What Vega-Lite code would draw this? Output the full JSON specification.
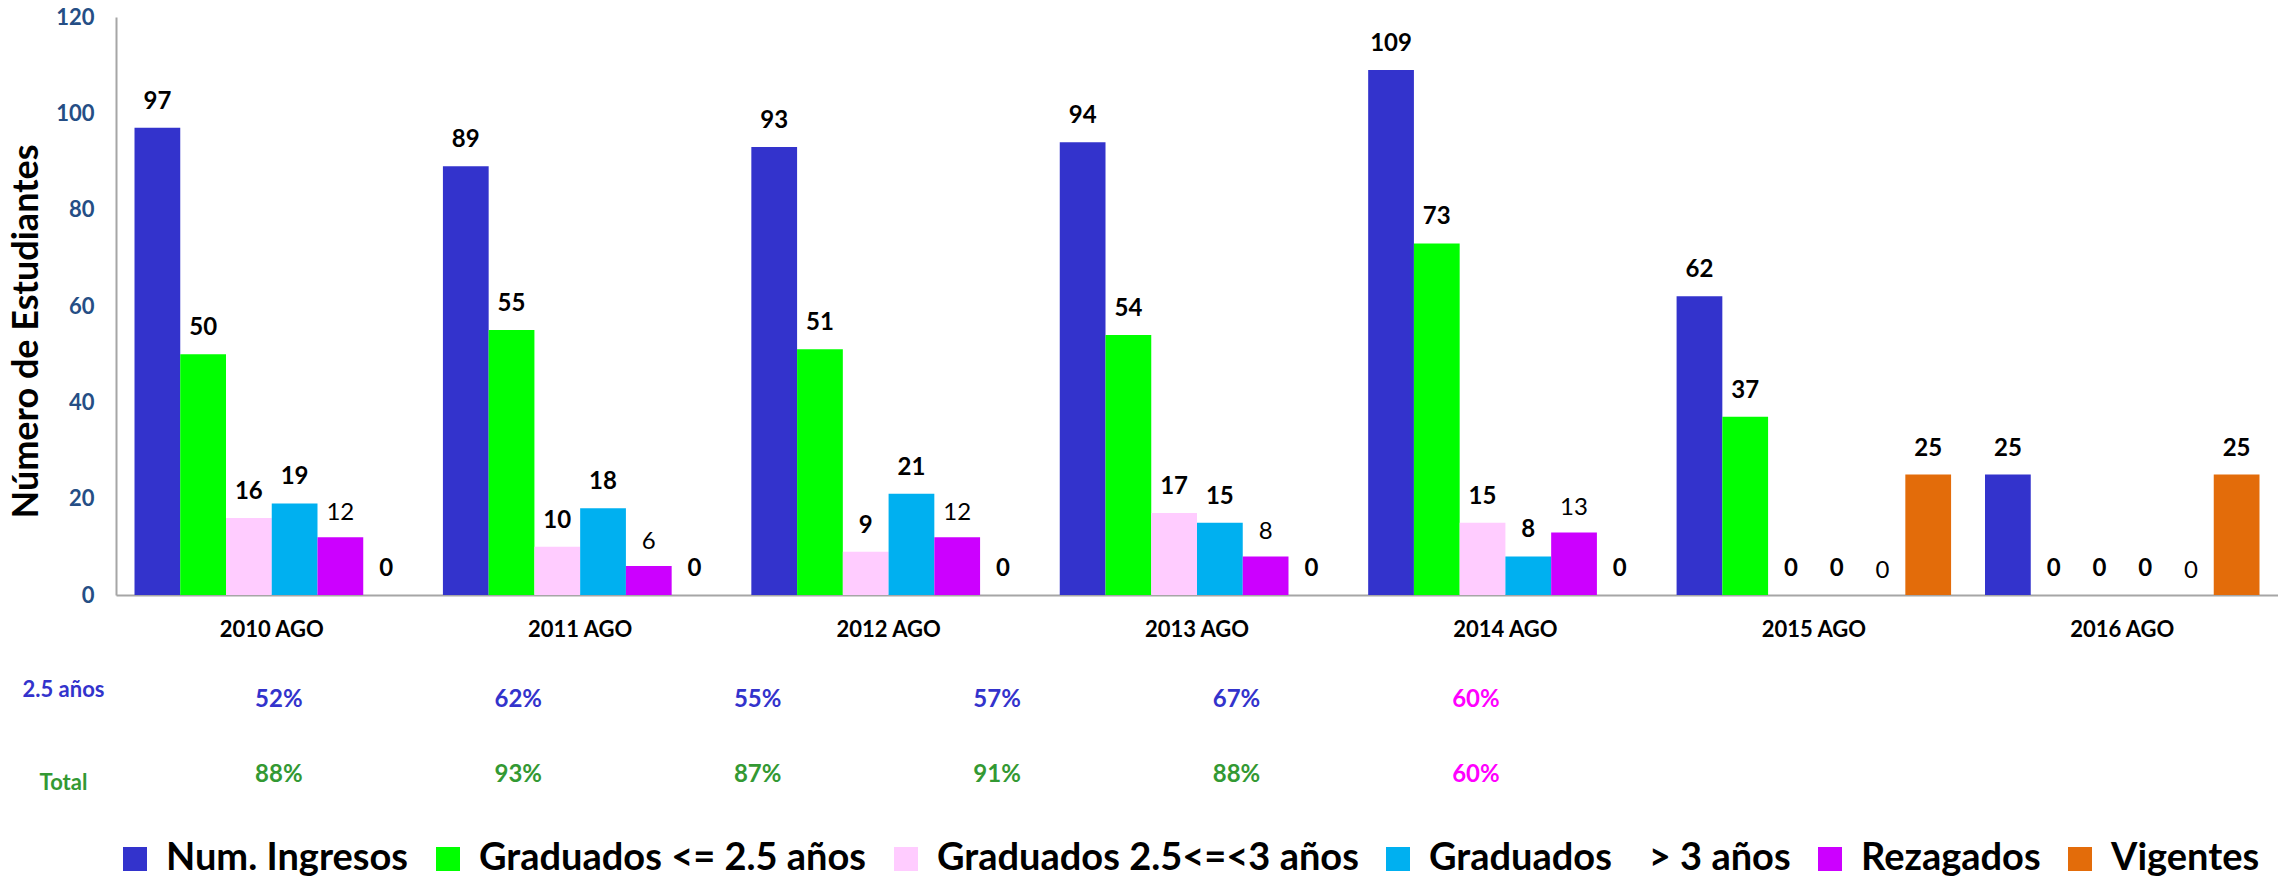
{
  "$schema": "https://vega.github.io/schema/vega-lite/v6.json",
  "padding": {"left": 8, "top": 6, "right": 0, "bottom": 0},
  "config": {"view": {"stroke": null}, "font": "Lato", "concat": {"spacing": 22}},
  "datasets": {
    "alumnos": [
      {"cohorte": "2010 AGO", "serie": "Num. Ingresos", "valor": 97},
      {"cohorte": "2010 AGO", "serie": "Graduados <= 2.5 años", "valor": 50},
      {"cohorte": "2010 AGO", "serie": "Graduados 2.5<=<3 años", "valor": 16},
      {"cohorte": "2010 AGO", "serie": "Graduados > 3 años", "valor": 19},
      {"cohorte": "2010 AGO", "serie": "Rezagados", "valor": 12},
      {"cohorte": "2010 AGO", "serie": "Vigentes", "valor": 0},
      {"cohorte": "2011 AGO", "serie": "Num. Ingresos", "valor": 89},
      {"cohorte": "2011 AGO", "serie": "Graduados <= 2.5 años", "valor": 55},
      {"cohorte": "2011 AGO", "serie": "Graduados 2.5<=<3 años", "valor": 10},
      {"cohorte": "2011 AGO", "serie": "Graduados > 3 años", "valor": 18},
      {"cohorte": "2011 AGO", "serie": "Rezagados", "valor": 6},
      {"cohorte": "2011 AGO", "serie": "Vigentes", "valor": 0},
      {"cohorte": "2012 AGO", "serie": "Num. Ingresos", "valor": 93},
      {"cohorte": "2012 AGO", "serie": "Graduados <= 2.5 años", "valor": 51},
      {"cohorte": "2012 AGO", "serie": "Graduados 2.5<=<3 años", "valor": 9},
      {"cohorte": "2012 AGO", "serie": "Graduados > 3 años", "valor": 21},
      {"cohorte": "2012 AGO", "serie": "Rezagados", "valor": 12},
      {"cohorte": "2012 AGO", "serie": "Vigentes", "valor": 0},
      {"cohorte": "2013 AGO", "serie": "Num. Ingresos", "valor": 94},
      {"cohorte": "2013 AGO", "serie": "Graduados <= 2.5 años", "valor": 54},
      {"cohorte": "2013 AGO", "serie": "Graduados 2.5<=<3 años", "valor": 17},
      {"cohorte": "2013 AGO", "serie": "Graduados > 3 años", "valor": 15},
      {"cohorte": "2013 AGO", "serie": "Rezagados", "valor": 8},
      {"cohorte": "2013 AGO", "serie": "Vigentes", "valor": 0},
      {"cohorte": "2014 AGO", "serie": "Num. Ingresos", "valor": 109},
      {"cohorte": "2014 AGO", "serie": "Graduados <= 2.5 años", "valor": 73},
      {"cohorte": "2014 AGO", "serie": "Graduados 2.5<=<3 años", "valor": 15},
      {"cohorte": "2014 AGO", "serie": "Graduados > 3 años", "valor": 8},
      {"cohorte": "2014 AGO", "serie": "Rezagados", "valor": 13},
      {"cohorte": "2014 AGO", "serie": "Vigentes", "valor": 0},
      {"cohorte": "2015 AGO", "serie": "Num. Ingresos", "valor": 62},
      {"cohorte": "2015 AGO", "serie": "Graduados <= 2.5 años", "valor": 37},
      {"cohorte": "2015 AGO", "serie": "Graduados 2.5<=<3 años", "valor": 0},
      {"cohorte": "2015 AGO", "serie": "Graduados > 3 años", "valor": 0},
      {"cohorte": "2015 AGO", "serie": "Rezagados", "valor": 0},
      {"cohorte": "2015 AGO", "serie": "Vigentes", "valor": 25},
      {"cohorte": "2016 AGO", "serie": "Num. Ingresos", "valor": 25},
      {"cohorte": "2016 AGO", "serie": "Graduados <= 2.5 años", "valor": 0},
      {"cohorte": "2016 AGO", "serie": "Graduados 2.5<=<3 años", "valor": 0},
      {"cohorte": "2016 AGO", "serie": "Graduados > 3 años", "valor": 0},
      {"cohorte": "2016 AGO", "serie": "Rezagados", "valor": 0},
      {"cohorte": "2016 AGO", "serie": "Vigentes", "valor": 25}
    ],
    "porcentajes": [
      {"fila": "2.5 años", "col": 1, "valor": 0.52, "resaltar": false},
      {"fila": "2.5 años", "col": 2, "valor": 0.62, "resaltar": false},
      {"fila": "2.5 años", "col": 3, "valor": 0.55, "resaltar": false},
      {"fila": "2.5 años", "col": 4, "valor": 0.57, "resaltar": false},
      {"fila": "2.5 años", "col": 5, "valor": 0.67, "resaltar": false},
      {"fila": "2.5 años", "col": 6, "valor": 0.60, "resaltar": true},
      {"fila": "Total", "col": 1, "valor": 0.88, "resaltar": false},
      {"fila": "Total", "col": 2, "valor": 0.93, "resaltar": false},
      {"fila": "Total", "col": 3, "valor": 0.87, "resaltar": false},
      {"fila": "Total", "col": 4, "valor": 0.91, "resaltar": false},
      {"fila": "Total", "col": 5, "valor": 0.88, "resaltar": false},
      {"fila": "Total", "col": 6, "valor": 0.60, "resaltar": true}
    ]
  },
  "vconcat": [
    {
      "width": 2162,
      "height": 578,
      "data": {"name": "alumnos"},
      "encoding": {
        "x": {
          "field": "cohorte", "type": "nominal", "sort": null,
          "scale": {"paddingInner": 0.11, "paddingOuter": 0.06},
          "axis": {"title": null, "labelAngle": 0, "labelFontSize": 22, "labelFontWeight": "bold", "labelColor": "black", "ticks": false, "domainColor": "#A6A6A6", "domainWidth": 2, "labelPadding": 24}
        },
        "xOffset": {
          "field": "serie", "type": "nominal",
          "sort": ["Num. Ingresos", "Graduados <= 2.5 años", "Graduados 2.5<=<3 años", "Graduados > 3 años", "Rezagados", "Vigentes"],
          "scale": {"paddingInner": 0, "paddingOuter": 0}
        },
        "y": {
          "field": "valor", "type": "quantitative",
          "scale": {"domain": [0, 120], "nice": false},
          "axis": {"title": "Número de Estudiantes", "titleFontSize": 36, "titleFontWeight": "bold", "titleColor": "black", "titlePadding": 10, "titleY": 314, "values": [0, 20, 40, 60, 80, 100, 120], "grid": false, "ticks": false, "domainColor": "#A6A6A6", "domainWidth": 2, "labelFontSize": 22, "labelFontWeight": "bold", "labelColor": "#254E85", "labelPadding": 22}
        }
      },
      "layer": [
        {
          "mark": {"type": "bar"},
          "encoding": {
            "color": {
              "field": "serie", "type": "nominal",
              "sort": ["Num. Ingresos", "Graduados <= 2.5 años", "Graduados 2.5<=<3 años", "Graduados > 3 años", "Rezagados", "Vigentes"],
              "scale": {
                "domain": ["Num. Ingresos", "Graduados <= 2.5 años", "Graduados 2.5<=<3 años", "Graduados > 3 años", "Rezagados", "Vigentes"],
                "range": ["#3333CC", "#00FF00", "#FFCCFF", "#00B0F0", "#CC00FF", "#E36C0A"]
              },
              "legend": {
                "orient": "bottom", "direction": "horizontal", "title": null, "offset": 28,
                "symbolType": "square", "symbolSize": 576, "symbolStrokeWidth": 0,
                "labelFontSize": 38, "labelFontWeight": "bold", "labelColor": "black",
                "columnPadding": 20, "labelOffset": 12, "labelLimit": 800,
                "labelExpr": "datum.label == 'Graduados > 3 años' ? 'Graduados\u00a0\u00a0\u00a0\u00a0> 3 años' : datum.label"
              }
            }
          }
        },
        {
          "transform": [{"filter": "datum.serie != 'Rezagados'"}],
          "mark": {"type": "text", "fontSize": 24, "fontWeight": "bold", "color": "black", "dy": -26, "baseline": "middle"},
          "encoding": {"text": {"field": "valor", "type": "quantitative"}}
        },
        {
          "transform": [{"filter": "datum.serie == 'Rezagados'"}],
          "mark": {"type": "text", "fontSize": 24, "fontWeight": "normal", "color": "black", "dy": -24, "baseline": "middle"},
          "encoding": {"text": {"field": "valor", "type": "quantitative"}}
        }
      ]
    },
    {
      "width": 2162,
      "height": 150,
      "data": {"name": "porcentajes"},
      "mark": {"type": "text", "fontSize": 24, "fontWeight": "bold", "baseline": "middle"},
      "encoding": {
        "x": {"field": "col", "type": "quantitative", "scale": {"domain": [0.32, 9.35], "nice": false, "zero": false}, "axis": null},
        "y": {
          "field": "fila", "type": "nominal", "sort": ["2.5 años", "Total"],
          "scale": {"type": "point", "padding": 0.5},
          "axis": {"title": null, "domain": false, "ticks": false, "labelAlign": "center", "labelPadding": 53, "labelFontSize": 22, "labelFontWeight": "bold",
            "labelOffset": {"condition": {"test": "datum.value == 'Total'", "value": 8}, "value": -10},
            "labelColor": {"condition": {"test": "datum.value == 'Total'", "value": "#339933"}, "value": "#3333CC"}}
        },
        "text": {"field": "valor", "type": "quantitative", "format": ".0%"},
        "color": {
          "condition": [
            {"test": "datum.resaltar", "value": "#FF00FF"},
            {"test": "datum.fila == 'Total'", "value": "#339933"}
          ],
          "value": "#3333CC"
        }
      }
    }
  ]
}
